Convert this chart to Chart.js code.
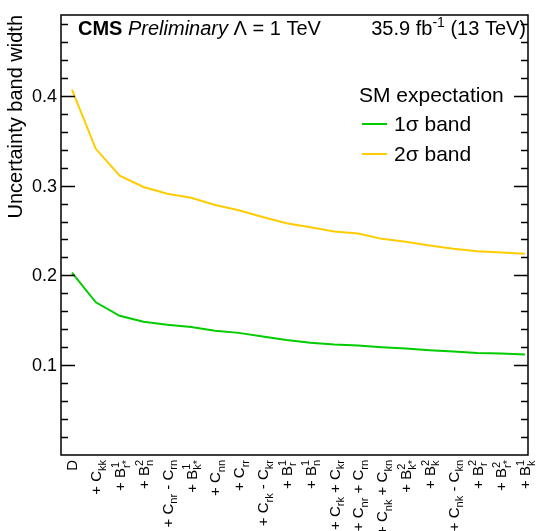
<!DOCTYPE html>
<html>
<head>
<meta charset="utf-8">
<script src="https://cdn.jsdelivr.net/npm/chart.js@4"></script>
<style>
  html, body { margin: 0; padding: 0; background: #fff; }
  #wrap { width: 538px; height: 531px; }
</style>
</head>
<body>
<div id="wrap"><canvas id="chart" width="538" height="531"></canvas></div>
<script>
// Observables added one by one (TeX-like: _{} subscript, ^{} superscript)
const categories = [
    'D', '+ C_{kk}', '+ B^{1}_{r*}', '+ B^{2}_{n}', '+ C_{nr} - C_{rn}',
    '+ B^{1}_{k*}', '+ C_{nn}', '+ C_{rr}', '+ C_{rk} - C_{kr}', '+ B^{1}_{r}',
    '+ B^{1}_{n}', '+ C_{rk} + C_{kr}', '+ C_{nr} + C_{rn}', '+ C_{nk} + C_{kn}', '+ B^{2}_{k*}',
    '+ B^{2}_{k}', '+ C_{nk} - C_{kn}', '+ B^{2}_{r}', '+ B^{2}_{r*}', '+ B^{1}_{k}'
];
const oneSigma = [0.203, 0.170, 0.155, 0.1485, 0.145, 0.1425, 0.1385, 0.136, 0.132, 0.128,
                  0.125, 0.123, 0.122, 0.120, 0.1185, 0.1167, 0.1152, 0.1137, 0.113, 0.112];
const twoSigma = [0.407, 0.341, 0.311, 0.2985, 0.291, 0.2865, 0.2785, 0.2725, 0.265, 0.258,
                  0.2537, 0.249, 0.2467, 0.2407, 0.2374, 0.2333, 0.2296, 0.227, 0.2256, 0.2241];
const yTickValues = [0.1, 0.2, 0.3, 0.4];
const yTickLabels = ['0.1', '0.2', '0.3', '0.4'];

const FONT = '"Liberation Sans", Arial, Helvetica, sans-serif';

// split "+ C_{nr} - C_{rn}" into runs of normal / sub / sup text
function parseRich(str) {
    const runs = [];
    let i = 0, buf = '';
    while (i < str.length) {
        const c = str[i];
        if ((c === '_' || c === '^') && str[i + 1] === '{') {
            if (buf) { runs.push({ t: buf, k: 'n' }); buf = ''; }
            const end = str.indexOf('}', i);
            runs.push({ t: str.slice(i + 2, end), k: c === '_' ? 'sub' : 'sup' });
            i = end + 1;
        } else {
            buf += c;
            i++;
        }
    }
    if (buf) runs.push({ t: buf, k: 'n' });
    return runs;
}

// lay out runs; a sup followed directly by a sub share the same x
function drawRich(ctx, str, size, align) {
    const runs = parseRich(str);
    const small = Math.round(size * 0.7);
    const big = size + 'px ' + FONT;
    const sm = small + 'px ' + FONT;
    const items = [];
    let x = 0;
    for (let i = 0; i < runs.length; i++) {
        const r = runs[i];
        if (r.k === 'n') {
            ctx.font = big;
            items.push({ t: r.t, x: x, dy: 0, f: big });
            x += ctx.measureText(r.t).width;
        } else {
            ctx.font = sm;
            const w1 = ctx.measureText(r.t).width;
            items.push({ t: r.t, x: x, dy: r.k === 'sub' ? size * 0.3 : -size * 0.42, f: sm });
            const nx = runs[i + 1];
            if (r.k === 'sup' && nx && nx.k === 'sub') {
                const w2 = ctx.measureText(nx.t).width;
                items.push({ t: nx.t, x: x, dy: size * 0.3, f: sm });
                x += Math.max(w1, w2);
                i++;
            } else {
                x += w1;
            }
        }
    }
    const x0 = align === 'right' ? -x : 0;
    ctx.textAlign = 'left';
    ctx.textBaseline = 'alphabetic';
    items.forEach(it => {
        ctx.font = it.f;
        ctx.fillText(it.t, x0 + it.x, it.dy);
    });
    return x;
}

// frame, ticks, axis labels, header and legend
const decorations = {
    id: 'decorations',
    afterDraw(chart) {
        const ctx = chart.ctx;
        const area = chart.chartArea;
        const xs = chart.scales.x;
        const ys = chart.scales.y;
        ctx.save();
        ctx.fillStyle = '#000';
        ctx.strokeStyle = '#000';

        // frame
        ctx.lineWidth = 1.5;
        ctx.strokeRect(area.left, area.top, area.right - area.left, area.bottom - area.top);

        // y ticks on both sides, minor every 0.02
        ctx.lineWidth = 1.3;
        ctx.beginPath();
        for (let k = 1; k * 0.02 < ys.max; k++) {
            const v = k * 0.02;
            const py = Math.round(ys.getPixelForValue(v)) + 0.5;
            const len = k % 5 === 0 ? 14 : 7;
            ctx.moveTo(area.left, py);
            ctx.lineTo(area.left + len, py);
            ctx.moveTo(area.right, py);
            ctx.lineTo(area.right - len, py);
        }
        ctx.stroke();

        // y tick labels
        ctx.font = '18px ' + FONT;
        ctx.textAlign = 'right';
        ctx.textBaseline = 'middle';
        yTickValues.forEach((v, i) => {
            ctx.fillText(yTickLabels[i], area.left - 4, ys.getPixelForValue(v) + 1);
        });

        // y axis title
        ctx.save();
        ctx.translate(22, area.top);
        ctx.rotate(-Math.PI / 2);
        ctx.font = '20px ' + FONT;
        ctx.textAlign = 'right';
        ctx.textBaseline = 'alphabetic';
        ctx.fillText('Uncertainty band width', 0, 0);
        ctx.restore();

        // rotated category labels
        categories.forEach((lab, i) => {
            const px = xs.getPixelForValue(i);
            ctx.save();
            ctx.translate(px + 5.4, area.bottom + 5);
            ctx.rotate(-Math.PI / 2);
            drawRich(ctx, lab, 15, 'right');
            ctx.restore();
        });

        // header
        const base = 35;
        let hx = 78;
        ctx.textAlign = 'left';
        ctx.textBaseline = 'alphabetic';
        ctx.font = 'bold 20px ' + FONT;
        ctx.fillText('CMS', hx, base);
        hx += ctx.measureText('CMS ').width;
        ctx.font = 'italic 20px ' + FONT;
        ctx.fillText('Preliminary', hx, base);
        hx += ctx.measureText('Preliminary ').width;
        ctx.font = '20px ' + FONT;
        ctx.fillText('\u039B = 1 TeV', hx, base);

        ctx.save();
        ctx.translate(area.right - 2, base);
        drawRich(ctx, '35.9 fb^{-1} (13 TeV)', 20, 'right');
        ctx.restore();

        // legend
        ctx.font = '21px ' + FONT;
        ctx.textBaseline = 'middle';
        ctx.fillText('SM expectation', 359, 96);
        chart.data.datasets.forEach((ds, i) => {
            const ly = 124 + i * 30;
            ctx.strokeStyle = ds.borderColor;
            ctx.lineWidth = 2;
            ctx.beginPath();
            ctx.moveTo(362, ly);
            ctx.lineTo(387, ly);
            ctx.stroke();
            ctx.fillStyle = '#000';
            ctx.fillText(ds.label, 394, ly + 1);
        });
        ctx.restore();
    }
};

const toPoints = arr => arr.map((v, i) => ({ x: i, y: v }));

new Chart(document.getElementById('chart'), {
    type: 'line',
    data: {
        datasets: [
            {
                label: '1\u03C3 band',
                data: toPoints(oneSigma),
                borderColor: '#00cc00',
                borderWidth: 2,
                pointRadius: 0,
                tension: 0
            },
            {
                label: '2\u03C3 band',
                data: toPoints(twoSigma),
                borderColor: '#ffcc00',
                borderWidth: 2,
                pointRadius: 0,
                tension: 0
            }
        ]
    },
    options: {
        responsive: false,
        animation: false,
        events: [],
        layout: { padding: { left: 61, top: 15, right: 10, bottom: 76 } },
        scales: {
            x: { type: 'linear', min: -0.46, max: 19.13, display: false },
            y: { type: 'linear', min: 0, max: 0.49, display: false }
        },
        plugins: {
            legend: { display: false },
            tooltip: { enabled: false }
        }
    },
    plugins: [decorations]
});
</script>
</body>
</html>
